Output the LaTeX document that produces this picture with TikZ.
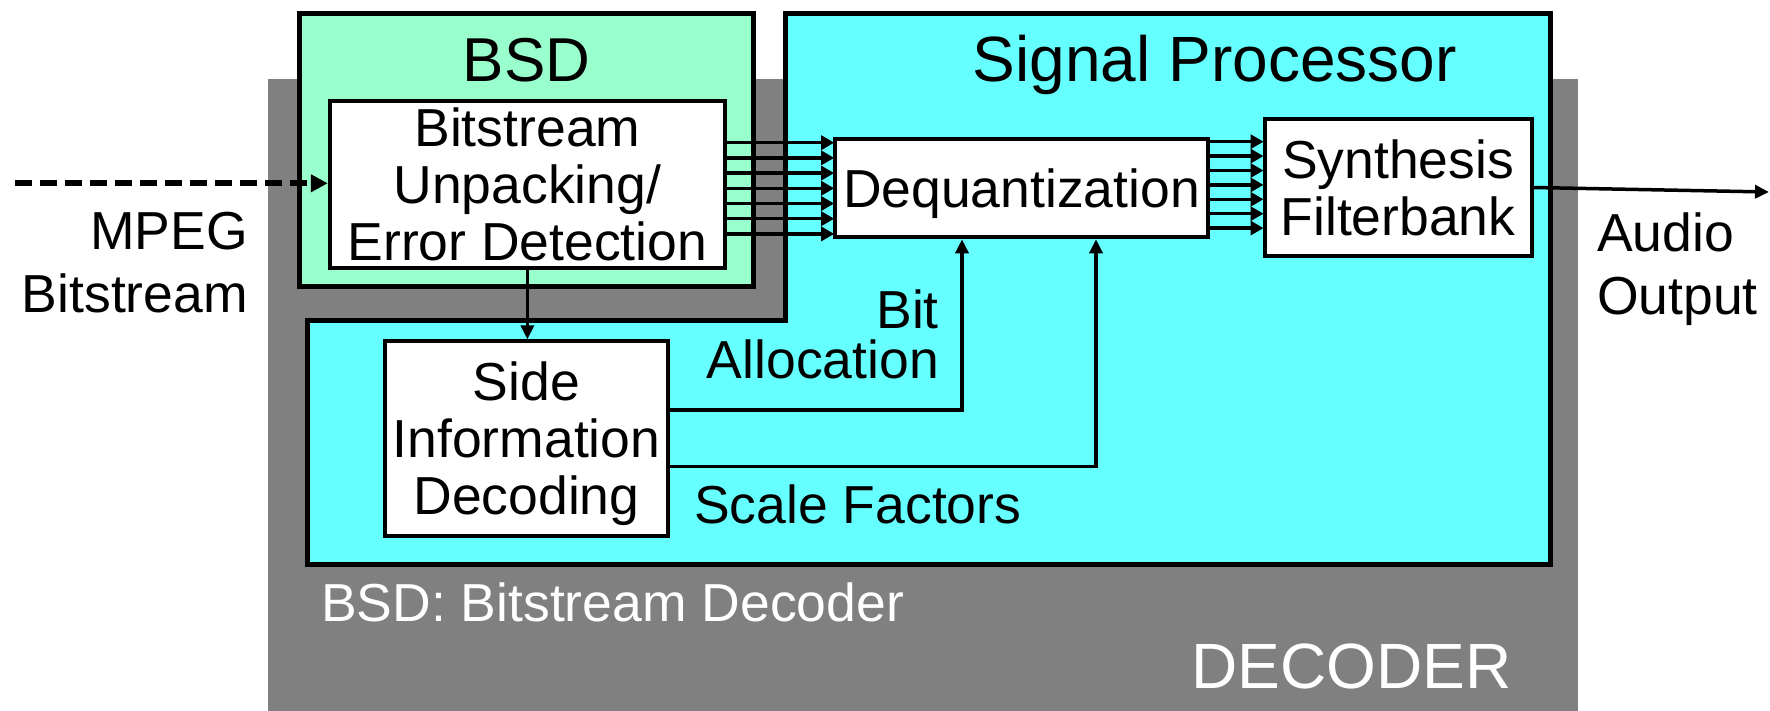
\documentclass[tikz,border=0pt]{standalone}
\usepackage{fontspec}
\setmainfont{Liberation Sans}
\usetikzlibrary{arrows.meta}
\definecolor{mint}{HTML}{99FFCC}
\definecolor{cyanfill}{HTML}{66FFFF}
\definecolor{decgray}{HTML}{808080}
\begin{document}
\begin{tikzpicture}[x=1pt,y=-1pt,
  box/.style={draw, line width=4pt, fill=white, align=center, inner sep=0pt, font=\fontsize{53.5}{57}\selectfont},
  conn/.style={line width=3.5pt, -{Triangle[length=14pt,width=13pt]}},
  bus/.style={line width=3.5pt, -{Triangle[length=13pt,width=14pt]}, shorten >=-1pt},
  lbl/.style={inner sep=0pt, font=\fontsize{53.5}{57}\selectfont},
]
\useasboundingbox (0,0) rectangle (1770,711);
% decoder background
\fill[decgray] (268,79) rectangle (1578,711);
% signal processor region
\draw[line width=5pt, fill=cyanfill, line join=miter]
  (785,13.5) -- (1550.5,13.5) -- (1550.5,564.5) -- (307,564.5) -- (307,320.5) -- (785,320.5) -- cycle;
% BSD region
\node[draw, line width=5pt, fill=mint, minimum width=453.5pt, minimum height=273pt, inner sep=0pt] (bsdbox) at (526.3,150) {};
% blocks
\node[box, minimum width=395.3pt, minimum height=166.7pt] (unpack) at (527.4,184.7) {Bitstream\\Unpacking/\\Error Detection};
\node[box, minimum width=372.6pt, minimum height=98pt, text depth=0pt] (deq) at (1021.5,188.3) {Dequantization};
\node[box, minimum width=267pt, minimum height=137.6pt] (synth) at (1398,187.5) {Synthesis\\Filterbank};
\node[box, minimum width=282.3pt, minimum height=195pt] (side) at (526.5,438.8) {Side\\Information\\Decodin\smash{g}};
% titles
\node[lbl, anchor=base, font=\fontsize{62}{70}\selectfont] (bsdt) at (526.5,81.7) {BSD};
\node[lbl, anchor=base, font=\fontsize{64}{70}\selectfont] (spt) at (1214.8,81.7) {Signal Processor};
% labels (base anchor = last line)
\node[lbl, align=right, anchor=base east, font=\fontsize{53.5}{63}\selectfont] (mpeg) at (248,313) {MPEG\\Bitstream};
\node[lbl, align=left, anchor=base west, font=\fontsize{53.5}{63}\selectfont] (audio) at (1597,315) {Audio\\Output};
\node[lbl, align=right, anchor=base east, font=\fontsize{53.5}{50}\selectfont] (bital) at (939,378.3) {Bit\\Allocation};
\node[lbl, anchor=base west] (scf) at (694,523.3) {Scale Factors};
\node[lbl, anchor=base west, text=white] (bsdlegend) at (321,621.7) {BSD: Bitstream Decoder};
\node[lbl, anchor=base west, text=white, font=\fontsize{64}{70}\selectfont] (dect) at (1191,688.3) {DECODER};
% connectors
\coordinate (inbeg) at (15,183.3);
\coordinate (outend) at (1769,192);
\draw[line width=6pt, dash pattern=on 17pt off 8pt, -{Triangle[length=17pt,width=17pt]}] (inbeg) -- (unpack.west |- inbeg);
\foreach \k in {0,...,6} {
  \pgfmathsetmacro\yy{142.7+15.2*\k}
  \draw[bus] (unpack.east |- 0,\yy) -- (deq.west |- 0,\yy);
}
\foreach \k in {0,...,6} {
  \pgfmathsetmacro\yy{141.7+14.4*\k}
  \draw[bus] (deq.east |- 0,\yy) -- (synth.west |- 0,\yy);
}
\draw[conn] (unpack.south) -- (unpack.south |- side.north);
\draw[conn] (side.east |- 0,410) -| (deq.south -| 962,0);
\draw[conn] (side.east |- 0,466.7) -| (deq.south -| 1096,0);
\draw[conn] (synth.east) -- (outend);
\end{tikzpicture}
\end{document}
